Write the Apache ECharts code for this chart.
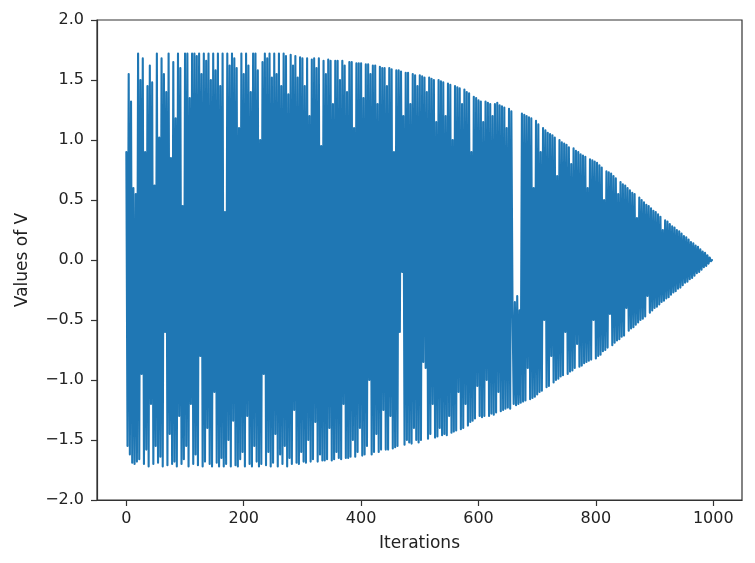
<!DOCTYPE html>
<html>
<head>
<meta charset="utf-8">
<script src="https://cdn.jsdelivr.net/npm/echarts@6/dist/echarts.min.js"></script>
<style>
html,body{margin:0;padding:0;background:#fff;}
#chart{width:755px;height:563px;}
</style>
</head>
<body>
<div id="chart"></div>
<script>
// Values of V, one every 2 iterations (iteration = 2 * index)
const vValues = [
  0.9, -1.55, 1.55, -1.62, 1.32, -1.69, 0.6, -1.7, 0.55, -1.68,
  1.72, -1.66, 1.5, -0.95, 1.68, -1.7, 0.9, -1.58, 1.45, -1.72,
  1.62, -1.2, 1.48, -1.7, 0.62, -1.55, 1.72, -1.69, 1.02, -1.64,
  1.68, -1.72, 1.55, -0.6, 1.4, -1.71, 1.72, -1.45, 0.85, -1.7,
  1.65, -1.68, 1.18, -1.72, 1.72, -1.3, 1.6, -1.7, 0.45, -1.66,
  1.72, -1.55, 1.72, -1.72, 1.35, -1.2, 1.72, -1.7, 1.72, -1.62,
  1.7, -1.71, 1.72, -0.8, 1.55, -1.72, 1.72, -1.68, 1.66, -1.4,
  1.72, -1.7, 1.5, -1.72, 1.72, -1.1, 1.58, -1.69, 1.72, -1.72,
  1.45, -1.65, 1.72, -1.72, 0.4, -1.7, 1.72, -1.5, 1.62, -1.72,
  1.72, -1.34, 1.68, -1.71, 1.6, -1.72, 1.1, -1.66, 1.72, -1.6,
  1.55, -1.72, 1.72, -1.3, 1.62, -1.7, 1.4, -1.72, 1.72, -1.55,
  1.72, -1.68, 1.58, -1.72, 1.0, -1.7, 1.65, -0.95, 1.72, -1.71,
  1.68, -1.6, 1.72, -1.72, 1.52, -1.69, 1.72, -1.45, 1.55, -1.72,
  1.72, -1.62, 1.45, -1.7, 1.72, -1.55, 1.7, -1.72, 1.38, -1.65,
  1.71, -1.7, 1.62, -1.25, 1.7, -1.69, 1.52, -1.7, 1.69, -1.6,
  1.68, -1.68, 1.45, -1.69, 1.68, -1.5, 1.2, -1.68, 1.67, -1.66,
  1.68, -1.35, 1.6, -1.68, 1.68, -1.62, 0.95, -1.67, 1.66, -1.67,
  1.55, -1.66, 1.67, -1.4, 1.66, -1.67, 1.3, -1.66, 1.66, -1.6,
  1.66, -1.65, 1.5, -1.66, 1.66, -1.2, 1.62, -1.65, 1.4, -1.65,
  1.65, -1.64, 1.65, -1.5, 1.1, -1.64, 1.64, -1.6, 1.64, -1.4,
  1.64, -1.63, 1.35, -1.62, 1.63, -1.55, 1.63, -1.0, 1.55, -1.62,
  1.62, -1.6, 1.62, -1.45, 1.3, -1.6, 1.61, -1.58, 1.6, -1.25,
  1.6, -1.58, 1.45, -1.58, 1.6, -1.3, 1.59, -1.57, 0.9, -1.56,
  1.58, -1.55, 1.58, -0.6, 1.57, -0.1, 1.2, -1.54, 1.56, -1.5,
  1.56, -1.52, 1.3, -1.53, 1.55, -1.4, 1.54, -1.5, 1.45, -1.52,
  1.54, -1.5, 1.53, -0.85, 1.52, -0.9, 1.4, -1.49, 1.52, -1.45,
  1.51, -1.2, 1.5, -1.48, 1.15, -1.47, 1.5, -1.4, 1.49, -1.46,
  1.48, -1.45, 1.2, -1.46, 1.47, -1.3, 1.46, -1.44, 1.0, -1.43,
  1.45, -1.42, 1.44, -1.1, 1.43, -1.41, 1.3, -1.4, 1.42, -1.2,
  1.4, -1.38, 1.39, -1.35, 0.9, -1.34, 1.36, -1.32, 1.35, -1.05,
  1.33, -1.3, 1.32, -1.31, 1.15, -1.3, 1.32, -1.0, 1.31, -1.3,
  1.3, -1.28, 1.2, -1.29, 1.3, -1.27, 1.31, -1.1, 1.29, -1.26,
  1.28, -1.25, 1.27, -1.24, 1.1, -1.23, 1.26, -1.24, 1.24, -0.4,
  -1.2, -0.35, -1.21, -0.3, -1.2, -0.42, -1.19, 1.22, -1.18, 1.21,
  -1.17, 1.2, -0.9, 1.19, -1.16, 1.18, -1.15, 0.6, -1.14, 1.16,
  -1.12, 1.13, -1.1, 0.9, -1.09, 1.1, -0.5, 1.08, -1.06, 1.06,
  -1.05, 1.05, -0.8, 1.04, -1.02, 1.02, -1.0, 0.7, -0.99, 1.0,
  -0.97, 0.98, -0.96, 0.97, -0.6, 0.96, -0.95, 0.94, -0.93, 0.8,
  -0.92, 0.93, -0.9, 0.91, -0.7, 0.9, -0.89, 0.88, -0.88, 0.87,
  -0.86, 0.86, -0.85, 0.6, -0.84, 0.84, -0.83, 0.83, -0.5, 0.82,
  -0.82, 0.81, -0.8, 0.79, -0.79, 0.77, -0.76, 0.5, -0.75, 0.74,
  -0.73, 0.73, -0.45, 0.72, -0.71, 0.7, -0.69, 0.68, -0.67, 0.55,
  -0.66, 0.65, -0.64, 0.63, -0.63, 0.62, -0.4, 0.6, -0.59, 0.58,
  -0.57, 0.56, -0.56, 0.55, -0.54, 0.35, -0.52, 0.52, -0.5, 0.5,
  -0.49, 0.48, -0.47, 0.46, -0.3, 0.45, -0.44, 0.43, -0.42, 0.41,
  -0.4, 0.4, -0.39, 0.38, -0.37, 0.36, -0.35, 0.25, -0.34, 0.33,
  -0.32, 0.32, -0.31, 0.3, -0.29, 0.28, -0.27, 0.27, -0.26, 0.25,
  -0.24, 0.24, -0.23, 0.22, -0.21, 0.2, -0.19, 0.19, -0.18, 0.17,
  -0.16, 0.15, -0.15, 0.14, -0.13, 0.12, -0.11, 0.11, -0.1, 0.09,
  -0.08, 0.07, -0.06, 0.06, -0.05, 0.04, -0.03, 0.02, -0.01, 0.0
];
const iterationStep = 2;
const xTicks = [0, 200, 400, 600, 800, 1000];
const xTitle = 'Iterations';
const yTitle = 'Values of V';

const seriesData = vValues.map((v, i) => [i * iterationStep, v]);
const fmt = v => v.toFixed(1).replace('-', '\u2212');
const axisColor = '#333';
const font = 'DejaVu Sans';

const chart = echarts.init(document.getElementById('chart'), null, {renderer: 'canvas'});
chart.setOption({
  animation: false,
  backgroundColor: '#fff',
  grid: {left: 97, right: 13, top: 20, bottom: 63, show: true, borderColor: axisColor, borderWidth: 1.2, backgroundColor: 'transparent'},
  xAxis: {
    type: 'value', min: -50, max: 1049,
    name: xTitle, nameLocation: 'middle', nameGap: 35,
    nameTextStyle: {fontFamily: font, fontSize: 17, color: '#222'},
    axisLine: {show: true, onZero: false, lineStyle: {color: axisColor, width: 1.2}},
    axisTick: {show: true, length: 6, inside: false, customValues: xTicks, lineStyle: {color: axisColor, width: 1.2}},
    axisLabel: {customValues: xTicks, margin: 11, fontFamily: font, fontSize: 16, color: '#222', formatter: v => String(v)},
    splitLine: {show: false}
  },
  yAxis: {
    type: 'value', min: -2, max: 2, interval: 0.5,
    name: yTitle, nameLocation: 'middle', nameGap: 66,
    nameTextStyle: {fontFamily: font, fontSize: 17, color: '#222'},
    axisLine: {show: true, onZero: false, lineStyle: {color: axisColor, width: 1.2}},
    axisTick: {show: true, length: 6, inside: false, lineStyle: {color: axisColor, width: 1.2}},
    axisLabel: {margin: 13, fontFamily: font, fontSize: 16, color: '#222', formatter: v => fmt(v)},
    splitLine: {show: false}
  },
  series: [{
    type: 'line',
    data: seriesData,
    showSymbol: false,
    symbol: 'none',
    sampling: null,
    lineStyle: {color: '#1f77b4', width: 2.1, join: 'round', cap: 'round'},
    itemStyle: {color: '#1f77b4'}
  }]
});
</script>
</body>
</html>
